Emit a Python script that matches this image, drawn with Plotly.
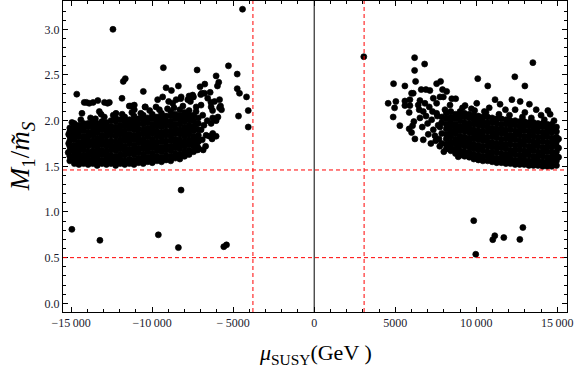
import plotly.graph_objects as go

# ---- data ----
# dense core of the negative-mu branch: (mu, [M1/mS values])
left_core = [
    (-15080, [1.56, 1.61, 1.67, 1.72, 1.78, 1.83, 1.88, 1.92]),
    (-14800, [1.53, 1.58, 1.63, 1.68, 1.73, 1.79, 1.84, 1.89, 1.94]),
    (-14520, [1.52, 1.56, 1.61, 1.66, 1.71, 1.76, 1.82, 1.87, 1.92, 1.95]),
    (-14230, [1.53, 1.57, 1.62, 1.68, 1.73, 1.78, 1.83, 1.89, 1.94, 1.97]),
    (-13950, [1.52, 1.56, 1.61, 1.66, 1.72, 1.77, 1.82, 1.87, 1.93, 1.97]),
    (-13660, [1.53, 1.57, 1.62, 1.67, 1.73, 1.78, 1.84, 1.89, 1.94, 1.98]),
    (-13390, [1.51, 1.55, 1.60, 1.65, 1.71, 1.76, 1.81, 1.87, 1.92, 1.97]),
    (-13100, [1.53, 1.57, 1.63, 1.68, 1.74, 1.79, 1.84, 1.90, 1.95, 1.99]),
    (-12820, [1.52, 1.56, 1.61, 1.66, 1.72, 1.77, 1.83, 1.88, 1.93, 1.98]),
    (-12540, [1.53, 1.57, 1.62, 1.68, 1.73, 1.78, 1.84, 1.89, 1.94, 2.00]),
    (-12250, [1.51, 1.56, 1.61, 1.67, 1.72, 1.77, 1.83, 1.88, 1.93, 1.99, 2.03]),
    (-11970, [1.53, 1.58, 1.63, 1.69, 1.74, 1.79, 1.85, 1.90, 1.95, 2.01]),
    (-11690, [1.52, 1.56, 1.62, 1.67, 1.72, 1.78, 1.83, 1.88, 1.94, 1.99, 2.04]),
    (-11400, [1.53, 1.58, 1.64, 1.69, 1.75, 1.80, 1.85, 1.91, 1.96, 2.01]),
    (-11120, [1.52, 1.57, 1.63, 1.68, 1.73, 1.79, 1.84, 1.90, 1.95, 2.00, 2.05]),
    (-10840, [1.54, 1.59, 1.65, 1.70, 1.76, 1.81, 1.86, 1.91, 1.97, 2.02]),
    (-10550, [1.53, 1.58, 1.63, 1.69, 1.74, 1.79, 1.85, 1.90, 1.96, 2.01, 2.06]),
    (-10270, [1.55, 1.60, 1.66, 1.71, 1.76, 1.82, 1.87, 1.92, 1.98, 2.03]),
    (-9990, [1.54, 1.59, 1.64, 1.70, 1.75, 1.80, 1.86, 1.91, 1.96, 2.02, 2.07]),
    (-9700, [1.56, 1.61, 1.67, 1.72, 1.77, 1.83, 1.88, 1.94, 1.99, 2.04]),
    (-9420, [1.55, 1.60, 1.66, 1.71, 1.77, 1.82, 1.87, 1.93, 1.98, 2.03, 2.08]),
    (-9140, [1.57, 1.62, 1.68, 1.73, 1.78, 1.84, 1.89, 1.95, 2.00, 2.05]),
    (-8850, [1.56, 1.61, 1.67, 1.72, 1.78, 1.83, 1.88, 1.94, 1.99, 2.05, 2.10]),
    (-8570, [1.59, 1.64, 1.70, 1.75, 1.80, 1.86, 1.91, 1.96, 2.02, 2.07]),
    (-8290, [1.58, 1.63, 1.69, 1.74, 1.79, 1.85, 1.90, 1.96, 2.01, 2.06, 2.12]),
    (-8000, [1.61, 1.66, 1.72, 1.77, 1.83, 1.88, 1.93, 1.99, 2.04, 2.09]),
    (-7720, [1.63, 1.68, 1.74, 1.79, 1.85, 1.90, 1.95, 2.01, 2.06, 2.11]),
    (-7440, [1.66, 1.72, 1.78, 1.83, 1.89, 1.94, 2.00, 2.06]),
    (-7150, [1.70, 1.77, 1.84, 1.90, 1.97, 2.03]),
]

# sparse points of the negative-mu branch: (mu, M1/mS)
left_sparse = [
    (-14650, 2.29), (-14190, 2.20), (-14050, 2.20), (-13880, 2.19), (-13640, 2.20),
    (-13350, 2.22), (-12940, 2.20), (-12750, 2.19), (-12640, 2.20), (-14330, 2.08),
    (-14810, 1.97), (-13260, 2.10), (-13150, 2.07), (-12230, 2.08), (-11860, 2.245),
    (-11410, 2.16), (-11300, 2.16), (-11100, 2.17), (-11100, 2.12), (-10420, 2.15),
    (-10440, 2.15), (-9760, 2.15), (-9660, 2.23), (-9350, 2.26), (-8980, 2.21),
    (-8730, 2.19), (-8520, 2.23), (-8210, 2.26), (-7800, 2.23), (-7490, 2.26),
    (-7280, 2.15), (-8240, 2.24), (-7640, 2.21), (-7720, 2.27), (-7450, 2.26),
    (-7000, 2.285), (-6940, 2.30), (-6420, 2.31), (-6370, 2.20), (-6770, 2.30),
    (-7040, 2.37), (-7500, 2.28), (-6750, 2.40), (-9140, 2.36), (-8380, 2.38),
    (-8810, 2.33), (-11657, 2.46), (-11781, 2.43), (-10544, 2.32), (-9307, 2.58),
    (-7225, 2.555), (-6050, 2.49), (-5890, 2.42), (-5970, 2.38), (-5290, 2.60),
    (-4750, 2.51), (-4750, 2.35), (-4610, 2.30), (-4175, 2.26), (-4070, 2.11),
    (-4670, 2.05), (-4070, 1.93), (-5840, 2.23), (-5780, 2.16), (-5720, 2.12),
    (-6270, 2.11), (-5940, 2.04), (-6050, 2.00), (-6360, 1.97), (-6260, 1.86),
    (-6050, 1.83), (-6460, 1.83), (-6300, 1.80), (-6910, 1.79), (-7250, 1.73),
    (-7190, 1.68), (-7430, 1.75), (-7600, 2.01), (-7290, 1.96), (-6980, 1.90),
    (-6670, 1.84), (-6880, 2.06), (-6360, 2.15), (-6570, 2.245), (-6150, 2.21),
    (-5840, 2.14), (-6260, 2.03), (-7190, 1.79), (-7290, 2.10), (-6980, 2.17),
    (-6800, 1.95), (-6600, 2.00), (-6700, 1.72), (-6850, 1.68),
    (-14950, 1.98), (-14400, 2.01), (-13800, 2.03), (-13500, 2.02), (-12950, 2.04),
    (-12400, 2.06), (-11850, 2.07), (-11250, 2.09), (-10700, 2.08), (-10150, 2.11),
    (-9550, 2.12), (-9050, 2.13), (-8650, 2.14), (-8100, 2.16), (-15150, 1.75),
    (-15180, 1.65), (-15150, 1.85),
]

# dense core of the positive-mu branch
right_core = [
    (7870, [1.75, 1.86, 1.98]),
    (8150, [1.69, 1.74, 1.80, 1.85, 1.91, 1.96, 2.02, 2.08]),
    (8430, [1.67, 1.72, 1.77, 1.83, 1.88, 1.94, 1.99, 2.04, 2.10]),
    (8720, [1.64, 1.69, 1.75, 1.80, 1.86, 1.91, 1.96, 2.02, 2.07]),
    (9000, [1.62, 1.67, 1.73, 1.78, 1.83, 1.89, 1.94, 2.00, 2.05, 2.10]),
    (9280, [1.61, 1.66, 1.72, 1.77, 1.82, 1.88, 1.93, 1.98, 2.04, 2.08]),
    (9570, [1.60, 1.65, 1.71, 1.76, 1.81, 1.87, 1.92, 1.97, 2.03, 2.07]),
    (9850, [1.58, 1.63, 1.69, 1.74, 1.80, 1.85, 1.90, 1.96, 2.01, 2.06]),
    (10130, [1.57, 1.62, 1.68, 1.73, 1.79, 1.84, 1.89, 1.95, 2.00, 2.05]),
    (10410, [1.56, 1.61, 1.67, 1.72, 1.78, 1.83, 1.88, 1.94, 1.99, 2.04]),
    (10700, [1.56, 1.61, 1.66, 1.72, 1.77, 1.82, 1.88, 1.93, 1.98, 2.04]),
    (10980, [1.55, 1.60, 1.65, 1.71, 1.76, 1.82, 1.87, 1.92, 1.98, 2.03]),
    (11260, [1.54, 1.59, 1.65, 1.70, 1.75, 1.81, 1.86, 1.91, 1.97, 2.02]),
    (11550, [1.54, 1.59, 1.64, 1.70, 1.75, 1.80, 1.86, 1.91, 1.96, 2.02]),
    (11830, [1.53, 1.58, 1.63, 1.69, 1.74, 1.80, 1.85, 1.90, 1.96, 2.01]),
    (12110, [1.53, 1.58, 1.63, 1.68, 1.74, 1.79, 1.84, 1.90, 1.95, 2.00]),
    (12400, [1.52, 1.57, 1.63, 1.68, 1.73, 1.79, 1.84, 1.89, 1.95, 2.00]),
    (12680, [1.52, 1.57, 1.62, 1.68, 1.73, 1.78, 1.84, 1.89, 1.94, 1.99]),
    (12960, [1.52, 1.57, 1.62, 1.67, 1.73, 1.78, 1.83, 1.89, 1.94, 1.99]),
    (13250, [1.51, 1.56, 1.62, 1.67, 1.72, 1.78, 1.83, 1.88, 1.94, 1.98]),
    (13530, [1.51, 1.56, 1.61, 1.67, 1.72, 1.77, 1.83, 1.88, 1.93, 1.98]),
    (13810, [1.51, 1.56, 1.61, 1.66, 1.72, 1.77, 1.82, 1.88, 1.93, 1.97]),
    (14100, [1.50, 1.55, 1.61, 1.66, 1.71, 1.77, 1.82, 1.87, 1.93, 1.97]),
    (14380, [1.50, 1.55, 1.60, 1.66, 1.71, 1.76, 1.82, 1.87, 1.92, 1.96]),
    (14660, [1.50, 1.55, 1.60, 1.65, 1.71, 1.76, 1.81, 1.87, 1.92, 1.96]),
    (14950, [1.51, 1.56, 1.61, 1.66, 1.72, 1.77, 1.82, 1.88, 1.93]),
]

right_sparse = [
    (3061, 2.70), (6196, 2.69), (6815, 2.62), (6196, 2.55), (6257, 2.43),
    (4897, 2.405), (5597, 2.38), (7555, 2.405), (7800, 2.43), (10093, 2.46),
    (10711, 2.38), (12380, 2.48), (13000, 2.38), (13494, 2.635),
    (6605, 2.34), (6895, 2.34), (7140, 2.33), (7920, 2.34), (8175, 2.32),
    (6010, 2.30), (6110, 2.30), (7970, 2.26), (8490, 2.24), (8730, 2.24),
    (11160, 2.23), (12200, 2.23), (4564, 2.19), (5040, 2.21), (4960, 2.14),
    (4873, 2.04), (5287, 1.945), (5597, 2.215), (5906, 2.23), (5597, 2.165),
    (5906, 2.165), (5863, 2.09), (6525, 2.22), (6834, 2.19), (6420, 2.17),
    (7100, 2.15), (7555, 2.19), (7350, 2.245), (7760, 2.26), (8380, 2.17),
    (6480, 2.12), (6730, 2.10), (6150, 1.99), (6070, 1.945), (6525, 2.03),
    (6670, 1.93), (5860, 1.91), (6010, 1.87), (6215, 1.80), (6730, 1.79),
    (7040, 1.85), (7450, 1.835), (7350, 1.90), (7760, 1.93), (7250, 2.01),
    (7555, 2.08), (7870, 2.04), (8070, 2.12), (8830, 1.70), (8890, 1.605),
    (7000, 1.97), (7200, 1.75), (7500, 1.78), (6900, 2.05), (7300, 2.10),
    (9310, 2.165), (10030, 2.19), (11470, 2.18), (12710, 2.21), (13280, 2.18),
    (14420, 2.11), (14560, 2.07), (10500, 2.10), (11800, 2.12), (13000, 2.09),
    (13700, 2.12), (10800, 2.14), (9700, 2.13), (12400, 2.12), (14000, 2.06),
    (9150, 2.14), (9900, 2.11), (10600, 2.09), (11400, 2.07), (12050, 2.06),
    (12850, 2.04), (13400, 2.03), (14200, 2.01), (14800, 2.00), (15080, 1.70),
    (15080, 1.60), (15080, 1.80), (7700, 1.80), (7650, 1.95), (7600, 2.05),
    (7750, 1.72), (8000, 1.66),
]

low_points = [
    (-14953, 0.81), (-13222, 0.69), (-9617, 0.75), (-8380, 0.61), (-8213, 1.24),
    (-5578, 0.62), (-5411, 0.64), (-12418, 3.00), (-4422, 3.22),
    (9845, 0.905), (9969, 0.537), (11020, 0.697), (11144, 0.74), (11700, 0.72),
    (12690, 0.70), (12876, 0.83),
]

x_ticks = [-15000, -10000, -5000, 0, 5000, 10000, 15000]
x_tick_text = ["\u221215\u2009000", "\u221210\u2009000", "\u2212\u20095000", "0",
               "5000", "10\u2009000", "15\u2009000"]
y_ticks = [0.0, 0.5, 1.0, 1.5, 2.0, 2.5, 3.0]
y_tick_text = ["0.0", "0.5", "1.0", "1.5", "2.0", "2.5", "3.0"]

vline_red = [-3780, 3080]
hline_red = [1.46, 0.5]

# ---- assemble ----
xs, ys = [], []
for col_x, col_y in left_core + right_core:
    for v in col_y:
        xs.append(col_x)
        ys.append(v)
for px, py in left_sparse + right_sparse + low_points:
    xs.append(px)
    ys.append(py)

fig = go.Figure()
fig.add_trace(go.Scatter(
    x=xs, y=ys, mode="markers",
    marker=dict(size=6, color="black", line=dict(width=0.7, color="black")),
    showlegend=False, hoverinfo="skip",
))

for xv in vline_red:
    fig.add_shape(type="line", x0=xv, x1=xv, y0=0, y1=1, xref="x", yref="paper",
                  line=dict(color="#ff0000", width=1, dash="4px,3px"))
for yv in hline_red:
    fig.add_shape(type="line", x0=0, x1=1, y0=yv, y1=yv, xref="paper", yref="y",
                  line=dict(color="#ff0000", width=1, dash="4px,3px"))
fig.add_shape(type="line", x0=0, x1=0, y0=0, y1=1, xref="x", yref="paper",
              line=dict(color="black", width=1))

tickfont = dict(family="Liberation Serif", size=12, color="#1a1a2e")
fig.update_xaxes(
    range=[-15500, 15600], showgrid=False, zeroline=False,
    showline=True, linecolor="black", linewidth=1, mirror="ticks",
    ticks="inside", ticklen=5, tickcolor="black",
    tickvals=x_ticks, ticktext=x_tick_text, tickfont=tickfont,
    minor=dict(ticks="inside", dtick=1000, ticklen=3, tickcolor="black", showgrid=False),
)
fig.update_yaxes(
    range=[-0.095, 3.31], showgrid=False, zeroline=False,
    showline=True, linecolor="black", linewidth=1, mirror="ticks",
    ticks="inside", ticklen=5, tickcolor="black",
    tickvals=y_ticks, ticktext=y_tick_text, tickfont=tickfont,
    minor=dict(ticks="inside", dtick=0.1, ticklen=3, tickcolor="black", showgrid=False),
)

fig.add_annotation(
    text="<i>M</i><sub>1</sub>/<i>m\u0303</i><sub><i>S</i></sub>",
    xref="paper", yref="paper", x=-0.082, y=0.5, xanchor="center", yanchor="middle",
    textangle=-90, showarrow=False,
    font=dict(family="Liberation Serif", size=27, color="black"),
)
fig.add_annotation(
    text="<i>\u03bc</i><sub>SUSY</sub>(GeV )",
    xref="paper", yref="paper", x=0.5, y=-0.085, xanchor="center", yanchor="top",
    showarrow=False,
    font=dict(family="Liberation Serif", size=22, color="black"),
)

fig.update_layout(
    width=576, height=374,
    margin=dict(l=63, r=9, t=1, b=62),
    paper_bgcolor="white", plot_bgcolor="white",
)

fig.write_html("out.html", config={"displayModeBar": False},
               post_script="document.body.style.margin='0';document.body.style.overflow='hidden';")
